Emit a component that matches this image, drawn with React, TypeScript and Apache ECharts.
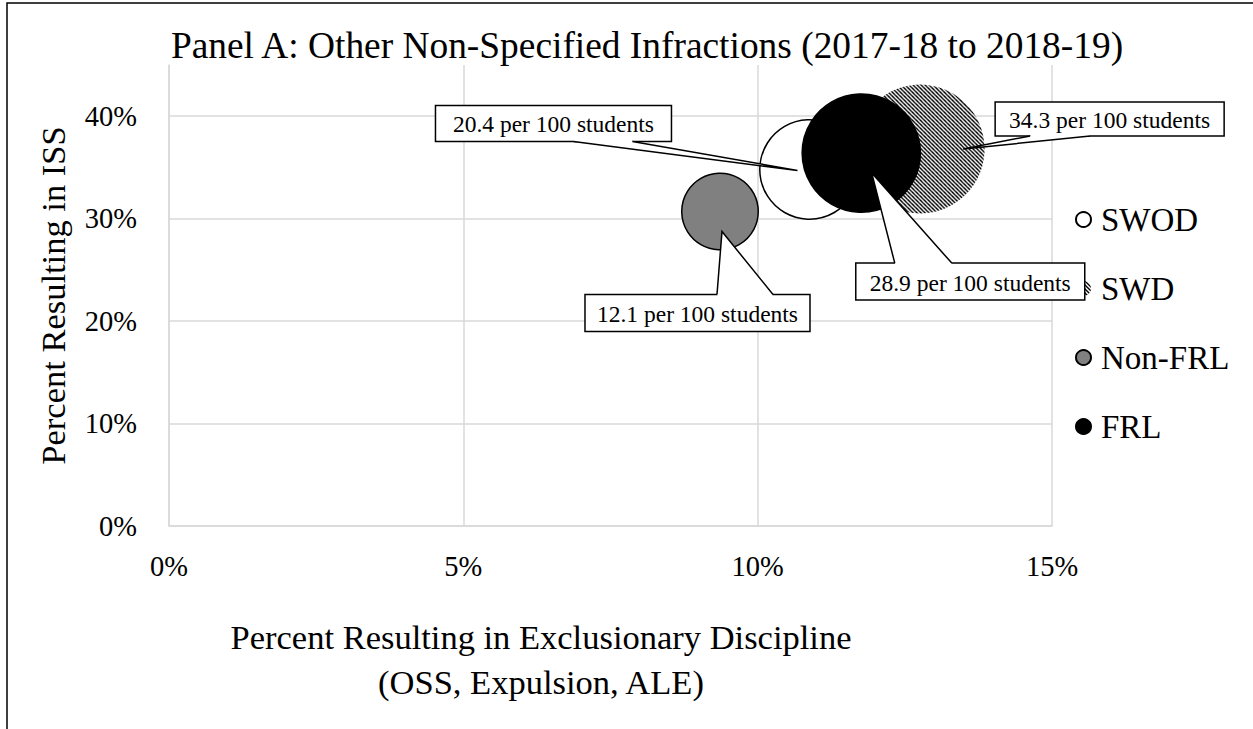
import React, { useEffect, useRef } from "react";
import * as echarts from "echarts";

// ---- data ----
const groups = ["SWOD", "SWD", "Non-FRL", "FRL"];
const exclusionaryPct = [10.88, 12.76, 9.36, 11.76]; // x: % resulting in exclusionary discipline
const issPct = [34.8, 36.8, 30.7, 36.4]; // y: % resulting in ISS
const per100 = [20.4, 34.3, 12.1, 28.9]; // bubble size: infractions per 100 students
const xTicks = [0, 5, 10, 15];
const yTicks = [0, 10, 20, 30, 40];

// ---- layout of callouts (offsets in px relative to each bubble's pixel position) ----
const calloutLayout = [
  { box: [-374, -64, 236, 36], side: "bottom", base: [-236, -177], tip: [-12, 1] },
  { box: [75, -47, 229, 34], side: "bottom", base: [110, 170], tip: [43, 0] },
  { box: [-135, 83, 225, 37], side: "top", base: [-3, 53], tip: [2, 20] },
  { box: [-5.5, 110, 229, 37], side: "top", base: [33.5, 90.5], tip: [10.5, 20] },
];

const FONT = '"Liberation Serif", "Times New Roman", serif';
const bubbleSize = (v: number) => 22 * Math.sqrt(v);

function makeHatch(scale: number) {
  const size = 4;
  const svg =
    `<svg xmlns="http://www.w3.org/2000/svg" width="${size}" height="${size}" viewBox="0 0 4 4">` +
    `<rect width="4" height="4" fill="#ffffff"/>` +
    `<polygon points="0,0 2,0 4,2 4,4" fill="#000000"/>` +
    `<polygon points="0,2 2,4 0,4" fill="#000000"/>` +
    `</svg>`;
  return {
    image: "data:image/svg+xml;charset=utf-8," + encodeURIComponent(svg),
    repeat: "repeat",
    imageWidth: size,
    imageHeight: size,
    scaleX: scale,
    scaleY: scale,
  };
}

export default function App() {
  const ref = useRef<HTMLDivElement>(null);
  useEffect(() => {
    document.body.style.margin = "0";
    const chart = echarts.init(ref.current!, null, { renderer: "svg" });
    const legendHatch = makeHatch(1);
    const fills: any[] = groups.map((g, i) =>
      i === 1 ? makeHatch(2 / bubbleSize(per100[i])) : ["#ffffff", null, "#808080", "#000000"][i]
    );
    const borders = ["#000000", "transparent", "#000000", "#000000"];

    const scatterSeries = groups.map((g, i) => ({
      name: g,
      type: "scatter",
      z: 2 + (i === 3 ? 1 : 0),
      silent: true,
      data: [[exclusionaryPct[i], issPct[i], per100[i]]],
      symbol: "circle",
      symbolSize: (v: number[]) => bubbleSize(v[2]),
      itemStyle: { color: fills[i], borderColor: borders[i], borderWidth: 1.5, opacity: 1 },
      emphasis: { disabled: true },
    }));

    const calloutData = groups.map((g, i) => [exclusionaryPct[i], issPct[i], per100[i]]);

    const option: any = {
      animation: false,
      backgroundColor: "#ffffff",
      grid: { left: 169, right: 201, top: 65, bottom: 203 },
      xAxis: {
        type: "value",
        min: xTicks[0],
        max: xTicks[xTicks.length - 1],
        interval: 5,
        axisLine: { show: true, lineStyle: { color: "#d9d9d9", width: 1.5 } },
        axisTick: { show: false },
        axisLabel: {
          margin: 26,
          fontFamily: FONT,
          fontSize: 28.5,
          color: "#000",
          formatter: (v: number) => (xTicks.includes(Math.round(v)) ? Math.round(v) + "%" : ""),
        },
        splitLine: { show: true, lineStyle: { color: "#d9d9d9", width: 1.5 } },
      },
      yAxis: {
        type: "value",
        min: 0,
        max: 45,
        interval: 10,
        name: "Percent Resulting in ISS",
        nameLocation: "middle",
        nameGap: 99,
        nameTextStyle: { fontFamily: FONT, fontSize: 34.5, color: "#000" },
        axisLine: { show: true, lineStyle: { color: "#d9d9d9", width: 1.5 } },
        axisTick: { show: false },
        axisLabel: {
          margin: 32,
          fontFamily: FONT,
          fontSize: 28.5,
          color: "#000",
          formatter: (v: number) =>
            yTicks.includes(Math.round(v)) && Math.abs(v - Math.round(v)) < 1e-6 ? Math.round(v) + "%" : "",
        },
        splitLine: {
          show: true,
          lineStyle: {
            color: ["#d9d9d9", "#d9d9d9", "#d9d9d9", "#d9d9d9", "#d9d9d9", "rgba(0,0,0,0)"],
            width: 1.5,
          },
        },
      },
      legend: {
        data: groups.map((g, i) => (i === 1 ? { name: g, itemStyle: { color: legendHatch } } : g)),
        orient: "vertical",
        left: 1070,
        top: 198,
        itemGap: 36,
        itemWidth: 15,
        itemHeight: 15,
        icon: "circle",
        selectedMode: false,
        textStyle: { fontFamily: FONT, fontSize: 33, color: "#000", padding: [0, 0, 0, 5] },
      },
      graphic: [
        {
          type: "rect",
          shape: { x: 7, y: 3, width: 1300, height: 800 },
          style: { fill: "none", stroke: "#000", lineWidth: 1.5 },
          silent: true,
          z: 0,
        },
        {
          type: "text",
          x: 647,
          y: 45,
          style: {
            text: "Panel A: Other Non-Specified Infractions (2017-18 to 2018-19)",
            font: `37.4px ${FONT}`,
            fill: "#000",
            align: "center",
            verticalAlign: "middle",
          },
        },
        {
          type: "text",
          x: 541,
          y: 659,
          style: {
            text: "Percent Resulting in Exclusionary Discipline\n(OSS, Expulsion, ALE)",
            font: `34.5px ${FONT}`,
            lineHeight: 45,
            fill: "#000",
            align: "center",
            verticalAlign: "middle",
          },
        },
      ],
      series: [
        ...scatterSeries,
        {
          type: "custom",
          coordinateSystem: "cartesian2d",
          z: 10,
          clip: false,
          silent: true,
          data: calloutData,
          renderItem: (params: any, api: any) => {
            const i = params.dataIndex;
            const c = api.coord([api.value(0), api.value(1)]);
            const L = calloutLayout[i];
            const bx = c[0] + L.box[0];
            const by = c[1] + L.box[1];
            const bw = L.box[2];
            const bh = L.box[3];
            const edgeY = L.side === "top" ? by : by + bh;
            const inward = L.side === "top" ? 2 : -2;
            const b1 = [c[0] + L.base[0], edgeY];
            const b2 = [c[0] + L.base[1], edgeY];
            const tip = [c[0] + L.tip[0], c[1] + L.tip[1]];
            const label = api.value(2).toFixed(1) + " per 100 students";
            return {
              type: "group",
              children: [
                {
                  type: "rect",
                  shape: { x: bx, y: by, width: bw, height: bh },
                  style: { fill: "#fff", stroke: "#000", lineWidth: 1.5 },
                },
                {
                  type: "polygon",
                  shape: {
                    points: [[b1[0] + 1, edgeY + inward], b1, tip, b2, [b2[0] - 1, edgeY + inward]],
                  },
                  style: { fill: "#fff", stroke: "none" },
                },
                {
                  type: "polyline",
                  shape: { points: [b1, tip, b2] },
                  style: { fill: "none", stroke: "#000", lineWidth: 1.5 },
                },
                {
                  type: "text",
                  style: {
                    x: bx + bw / 2,
                    y: by + bh / 2 + 1,
                    text: label,
                    font: `23.5px ${FONT}`,
                    fill: "#000",
                    align: "center",
                    verticalAlign: "middle",
                  },
                },
              ],
            };
          },
        },
      ],
    };
    chart.setOption(option);
    return () => chart.dispose();
  }, []);
  return <div ref={ref} style={{ position: "absolute", left: 0, top: 0, width: 1253, height: 729 }} />;
}
